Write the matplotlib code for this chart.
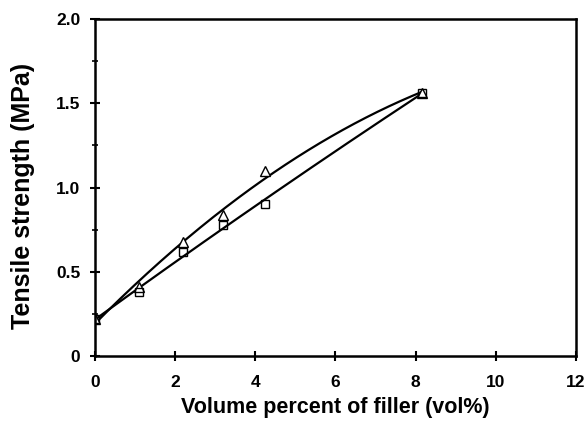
import numpy as np
import matplotlib
matplotlib.use("Agg")
from matplotlib import pyplot as plt
from matplotlib.ticker import MultipleLocator

# Data
vol = [0.0, 1.1, 2.2, 3.2, 4.25, 8.15]
strength_tri = [0.22, 0.41, 0.68, 0.84, 1.10, 1.56]
strength_sq = [0.22, 0.38, 0.62, 0.78, 0.90, 1.56]

plt.rcParams["font.family"] = ["Liberation Sans", "DejaVu Sans"]
plt.rcParams["font.weight"] = "bold"

fig = plt.figure(figsize=(5.86, 4.21), dpi=100)
ax = fig.add_axes([0.162, 0.154, 0.821, 0.801])

# fitted curves
xs = np.linspace(min(vol), max(vol), 200)
for ys in (strength_tri, strength_sq):
    coef = np.polyfit(vol, ys, 2)
    ax.plot(xs, np.polyval(coef, xs), color="black", lw=1.6)

ax.plot(vol, strength_tri, linestyle="none", marker="^", markersize=6.5,
        markerfacecolor="white", markeredgecolor="black", markeredgewidth=1.0)
ax.plot(vol, strength_sq, linestyle="none", marker="s", markersize=6,
        markerfacecolor="none", markeredgecolor="black", markeredgewidth=1.0)

ax.set_xlim(0, 12)
ax.set_ylim(0, 2.0)
ax.set_xticks([0, 2, 4, 6, 8, 10, 12])
ax.set_yticks([0, 0.5, 1.0, 1.5, 2.0])
ax.set_yticklabels(["0", "0.5", "1.0", "1.5", "2.0"])
ax.yaxis.set_minor_locator(MultipleLocator(0.25))
ax.tick_params(axis="both", which="major", direction="inout", length=7, width=1.5,
               labelsize=12.5)
ax.tick_params(axis="x", which="major", pad=10)
ax.tick_params(axis="y", which="major", pad=7)
ax.tick_params(axis="y", which="minor", direction="inout", length=4, width=1.2)
for sp in ax.spines.values():
    sp.set_linewidth(1.8)

ax.set_xlabel("Volume percent of filler (vol%)", fontsize=15.5, fontweight="bold", labelpad=5)
ax.set_ylabel("Tensile strength (MPa)", fontsize=18, fontweight="bold", labelpad=12)
ax.yaxis.set_label_coords(-0.125, 0.475)

fig.savefig("out.png", dpi=100)
